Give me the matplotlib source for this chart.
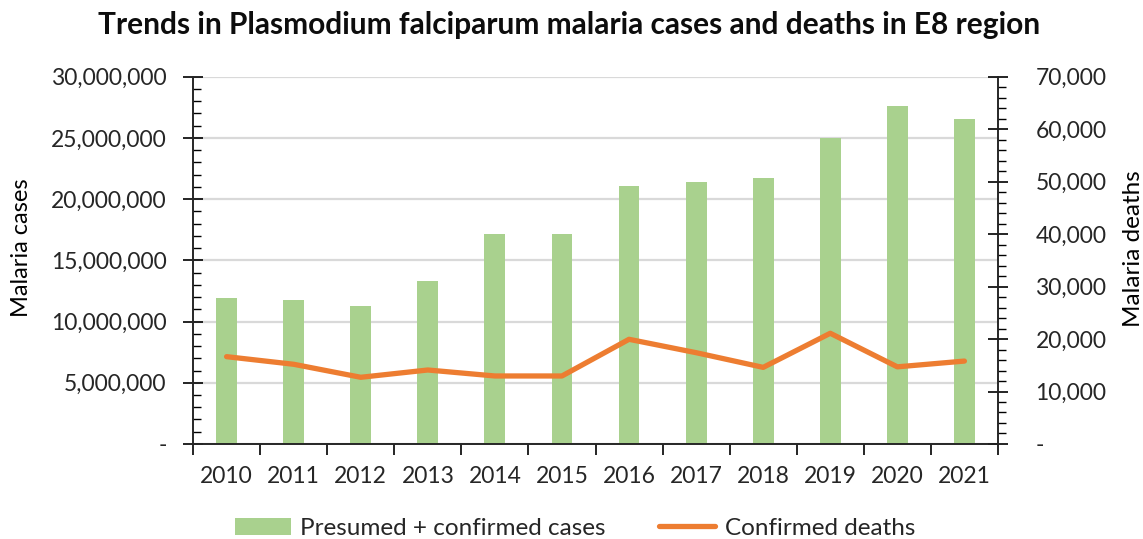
import matplotlib
matplotlib.use("Agg")
import matplotlib.pyplot as plt
import numpy as np
from matplotlib.ticker import FuncFormatter, MultipleLocator
from matplotlib.patches import Patch
from matplotlib.lines import Line2D

years = ["2010", "2011", "2012", "2013", "2014", "2015",
         "2016", "2017", "2018", "2019", "2020", "2021"]
cases = [11.93e6, 11.74e6, 11.30e6, 13.32e6, 17.16e6, 17.16e6,
         21.06e6, 21.38e6, 21.70e6, 25.00e6, 27.64e6, 26.58e6]
deaths = [16640, 15190, 12710, 14100, 12960, 12960,
          19950, 17400, 14600, 21100, 14700, 15800]

plt.rcParams['font.family'] = ['Lato', 'DejaVu Sans']

fig = plt.figure(figsize=(11.43, 5.39), dpi=100)
ax = fig.add_axes([0.1689, 0.1763, 0.7042, 0.6814])
ax2 = ax.twinx()

x = np.arange(len(years))
ax.bar(x, cases, width=0.31, color="#A9D18E", zorder=2)
ax2.plot(x, deaths, color="#ED7D31", lw=3.8, solid_capstyle="round", zorder=3)

ax.set_xlim(-0.5, len(years) - 0.5)
ax.set_ylim(0, 30e6)
ax2.set_ylim(0, 70000)

def fmt(v, pos):
    if abs(v) < 1e-9:
        return "-"
    return f"{v:,.0f}"

ax.yaxis.set_major_locator(MultipleLocator(5e6))
ax.yaxis.set_minor_locator(MultipleLocator(1e6))
ax.yaxis.set_major_formatter(FuncFormatter(fmt))
ax2.yaxis.set_major_locator(MultipleLocator(10000))
ax2.yaxis.set_minor_locator(MultipleLocator(2000))
ax2.yaxis.set_major_formatter(FuncFormatter(fmt))

ax.set_xticks(np.arange(-0.5, len(years), 1))
ax.set_xticklabels([])
ax.set_xticks(x, minor=True)
ax.set_xticklabels(years, minor=True, fontsize=16.5, color="#262626")
ax.tick_params(axis="x", which="major", direction="out", length=8, width=1.2)
ax.tick_params(axis="x", which="minor", length=0, pad=16)

ax.tick_params(axis="y", which="major", direction="inout", length=14, width=1.2,
               labelsize=16.5, labelcolor="#262626", pad=12)
ax.tick_params(axis="y", which="minor", direction="in", length=6, width=1.0)
ax2.tick_params(axis="y", which="major", direction="inout", length=14, width=1.2,
                labelsize=16.5, labelcolor="#262626", pad=20)
ax2.tick_params(axis="y", which="minor", direction="out", length=6, width=1.0)

ax.grid(axis="y", color="#D9D9D9", lw=1.6, zorder=0)
ax.set_axisbelow(True)

for a in (ax, ax2):
    a.spines["top"].set_visible(False)
    for s in ("left", "right", "bottom"):
        a.spines[s].set_color("#262626")
        a.spines[s].set_linewidth(1.2)

fig.text(22 / 1143, 1 - 248 / 539, "Malaria cases", rotation=90,
         ha="center", va="center", fontsize=17)
fig.text(1133 / 1143, 1 - 249 / 539, "Malaria deaths", rotation=90,
         ha="center", va="center", fontsize=17.5)

fig.text(0.498, 0.953, "Trends in Plasmodium falciparum malaria cases and deaths in E8 region",
         ha="center", va="center", fontsize=21.5, fontweight="bold", color="#0D0D0D")

handles = [Patch(facecolor="#A9D18E", edgecolor="none"),
           Line2D([], [], color="#ED7D31", lw=3.8, solid_capstyle="round")]
fig.legend(handles, ["Presumed + confirmed cases", "Confirmed deaths"],
           loc="center", bbox_to_anchor=(0.503, 0.02), ncol=2, frameon=False,
           fontsize=17.5, handlelength=2.3, handletextpad=0.4, columnspacing=2.2,
           labelcolor="#262626")

fig.savefig("out.png", dpi=100)
